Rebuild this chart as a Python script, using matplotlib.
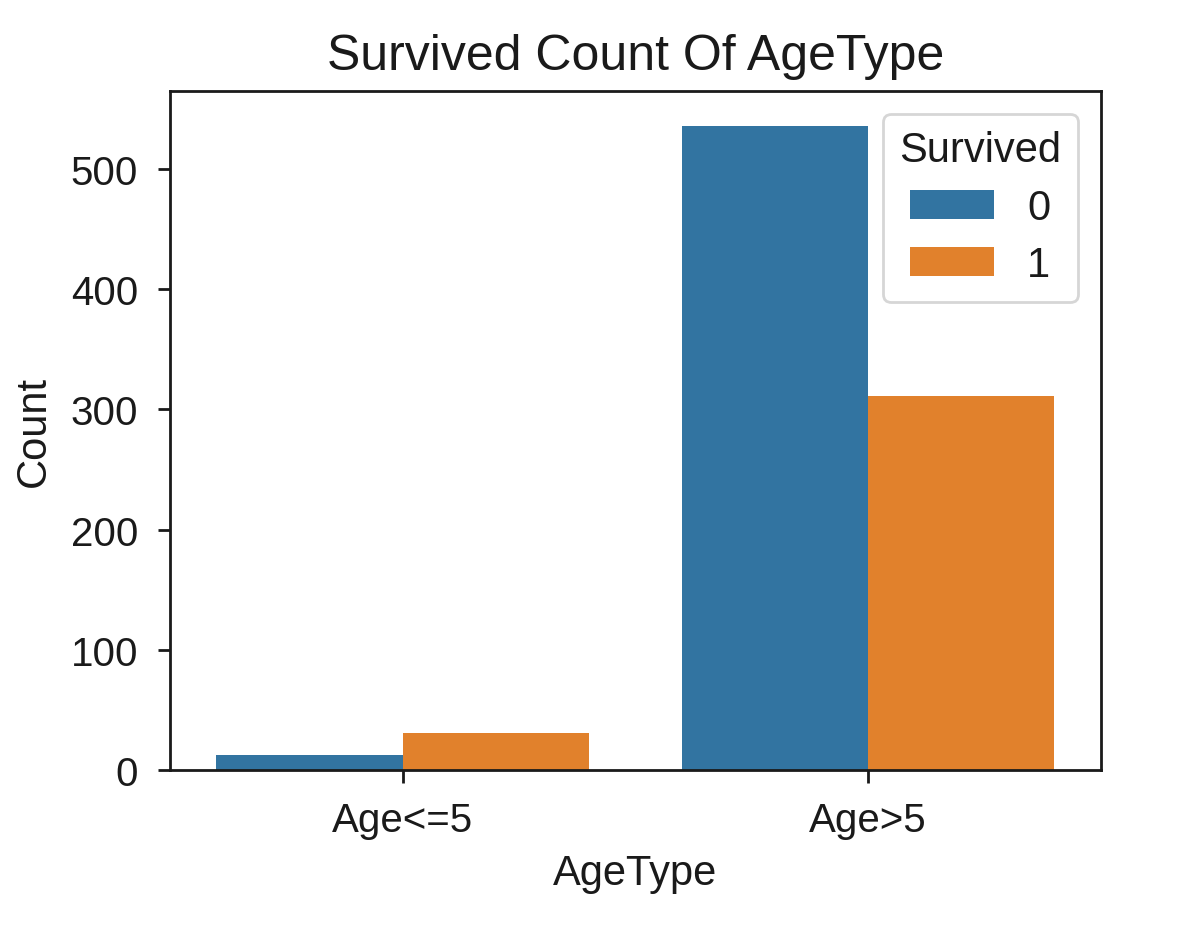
import numpy as np
import matplotlib
matplotlib.use("Agg")
import matplotlib.pyplot as plt

age_types = ["Age<=5", "Age>5"]
survived_levels = ["0", "1"]
counts_0 = [13, 536]
counts_1 = [31, 311]
colors = ["#3274a1", "#e1812c"]

plt.rcParams["font.family"] = ["Liberation Sans", "DejaVu Sans"]
plt.rcParams["text.color"] = "#1a1a1a"
plt.rcParams["axes.labelcolor"] = "#1a1a1a"
plt.rcParams["xtick.color"] = "#1a1a1a"
plt.rcParams["ytick.color"] = "#1a1a1a"

fig = plt.figure(figsize=(5.9, 4.64), dpi=200)
ax = fig.add_axes([0.144, 0.169, 0.789, 0.732])

x = np.arange(len(age_types))
w = 0.4
ax.bar(x - w / 2, counts_0, w, color=colors[0], label=survived_levels[0])
ax.bar(x + w / 2, counts_1, w, color=colors[1], label=survived_levels[1])

ax.set_xlim(-0.5, 1.5)
ax.set_ylim(0, 565)
ax.set_xticks(x)
ax.set_xticklabels(age_types)
ax.set_yticks([0, 100, 200, 300, 400, 500])
ax.tick_params(labelsize=14.5, width=1, length=4.5)
ax.tick_params(axis="x", pad=6.5)
ax.tick_params(axis="y", pad=7)
for s in ax.spines.values():
    s.set_linewidth(1)
    s.set_color("#1a1a1a")
ax.set_xlabel("AgeType", fontsize=15, labelpad=5)
ax.set_ylabel("Count", fontsize=15, labelpad=6)
ax.set_title("Survived Count Of AgeType", fontsize=18, pad=8)
ax.legend(title="Survived", loc="upper right", fontsize=15, title_fontsize=15,
          borderaxespad=0.55, labelspacing=0.42)

plt.savefig("out.png", dpi=200)
